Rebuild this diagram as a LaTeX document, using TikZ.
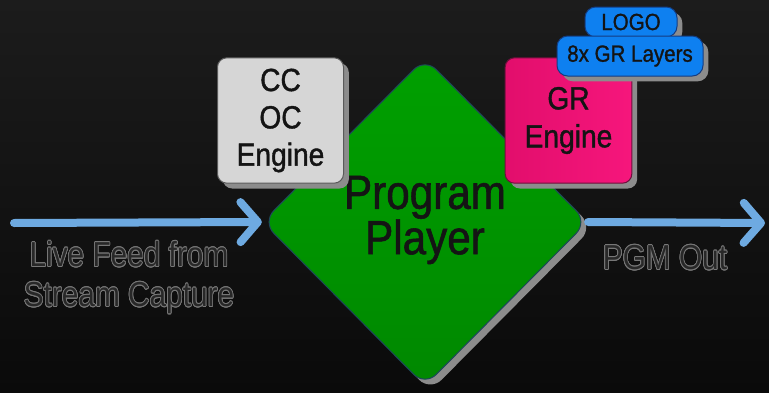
\documentclass[tikz,border=0pt]{standalone}
\usepackage{fontspec}
\usepackage[copies]{contour}
\usetikzlibrary{shapes.geometric,shadows,arrows.meta}
\newfontfamily\dinfont[FakeStretch=0.88,FakeBold=1.2]{Liberation Sans}
\newfontfamily\dinlight[FakeStretch=0.86]{Liberation Sans}
\contourlength{0.55pt}
\contournumber{16}
\definecolor{bgtop}{RGB}{28,28,28}
\definecolor{bgbot}{RGB}{10,10,10}
\definecolor{feedblue}{RGB}{110,170,225}
\definecolor{playgreen}{RGB}{0,160,0}
\definecolor{playgreendk}{RGB}{0,136,0}
\definecolor{ccgray}{RGB}{214,214,214}
\definecolor{grpink}{RGB}{226,14,108}
\definecolor{grpinklt}{RGB}{246,22,124}
\definecolor{layerblue}{RGB}{14,128,240}
\definecolor{shadowgray}{RGB}{140,140,140}
\definecolor{lblfill}{RGB}{40,40,40}
\definecolor{lblline}{RGB}{120,120,120}
\definecolor{inktext}{RGB}{20,20,20}

\tikzset{every picture/.style={line width=0.75pt}}
\tikzset{
  boxshadow/.style={drop shadow={shadow xshift=4pt,shadow yshift=-4pt,fill=shadowgray,opacity=1}},
  enginebox/.style={rounded corners=7pt,inner sep=0pt,align=center,text=inktext,boxshadow,
    font=\dinfont\fontsize{24}{28}\selectfont},
  layerbox/.style={rounded corners=8pt,inner sep=0pt,align=center,text=inktext,boxshadow,
    fill=layerblue,draw={rgb,255:red,20;green,60;blue,130},font=\dinfont\fontsize{17.5}{20}\selectfont},
  feedarrow/.style={draw=feedblue,line width=6pt,line cap=round,
    -{Straight Barb[length=13pt,width=30pt,round]}},
  feedlabel/.style={align=center,text=lblfill,font=\dinlight\fontsize{26}{30}\selectfont}
}

\begin{document}
\begin{tikzpicture}[x=0.75pt,y=0.75pt,yscale=-1]

% background
\shade[top color=bgtop,bottom color=bgbot] (0,0) rectangle (769,393);

% program player
\node[diamond,minimum width=244pt,minimum height=246pt,inner sep=0pt,rounded corners=12pt,
  top color=playgreen,bottom color=playgreendk,draw={rgb,255:red,30;green,70;blue,90},
  boxshadow] (player) at (425,222) {};
\node[align=center,text=inktext,font=\dinfont\fontsize{36}{34}\selectfont]
  (playertext) at (425,220) {Program\\Player};

% feed arrows
\coordinate (feedin) at (14,223);
\coordinate (pgmout) at (765,223);
\draw[feedarrow] (feedin) -- (player.west);
\draw[feedarrow] (player.east) -- (pgmout);

% engines
\node[enginebox,fill=ccgray,draw={rgb,255:red,90;green,90;blue,90},
  minimum width=94.5pt,minimum height=94pt] (ccoc) at (280.5,120.5) {CC\\OC\\Engine};
\node[enginebox,left color=grpink,right color=grpinklt,draw={rgb,255:red,110;green,16;blue,60},
  minimum width=95pt,minimum height=94pt,font=\dinfont\fontsize{24}{28.5}\selectfont]
  (gr) at (568.5,120.5) {GR\\Engine};

% graphics layers
\node[layerbox,minimum width=69pt,minimum height=22.5pt] (logo) at (631,22) {LOGO};
\node[layerbox,minimum width=109.5pt,minimum height=30pt] (layers) at (630,56) {8x GR Layers};

% labels
\node[feedlabel] (feedlbl) at (129,278) {\contour{lblline}{Live Feed from}\\\contour{lblline}{Stream Capture}};
\node[feedlabel] (pgmlbl) at (665,258) {\contour{lblline}{PGM Out}};

\end{tikzpicture}
\end{document}
